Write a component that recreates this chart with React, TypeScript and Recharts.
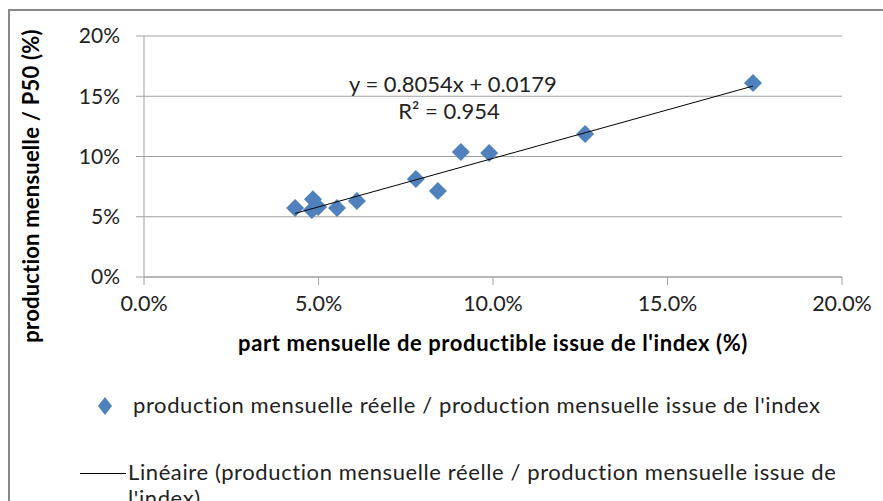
import React from 'react';
import { ScatterChart, Scatter, XAxis, YAxis, CartesianGrid } from 'recharts';

// Data (values in %)
const xValues = [4.33, 4.84, 4.81, 4.99, 5.53, 6.1, 7.79, 8.42, 9.08, 9.89, 12.64, 17.45];
const yValues = [5.73, 6.45, 5.56, 5.8, 5.73, 6.3, 8.13, 7.14, 10.37, 10.3, 11.87, 16.1];
const xTicks = [0, 5, 10, 15, 20];
const yTicks = [0, 5, 10, 15, 20];

// Trend line (from the equation printed on the chart)
const slope = 0.8054;
const intercept = 0.0179;
const rSquared = 0.954;

const seriesName = "production mensuelle réelle / production mensuelle issue de l'index";
const trendNameLine1 = 'Linéaire (production mensuelle réelle / production mensuelle issue de';
const trendNameLine2 = "l'index)";
const xTitle = "part mensuelle de productible issue de l'index (%)";
const yTitle = 'production mensuelle / P50 (%)';

const points = xValues.map((x, i) => ({ x, y: yValues[i] }));
const xMin = Math.min(...xValues);
const xMax = Math.max(...xValues);
const trend = [xMin, xMax].map((x) => ({ x, y: slope * x + intercept * 100 }));

const FONT = "Lato, 'Open Sans', sans-serif";
const BLUE = '#4F81BD';
const GRAY = '#a0a0a0';

const Diamond = (props: any) => {
  const { cx, cy } = props;
  const r = 9;
  return (
    <polygon
      points={`${cx},${cy - r} ${cx + r},${cy} ${cx},${cy + r} ${cx - r},${cy}`}
      fill={BLUE}
    />
  );
};

const NoDot = () => <g />;

export default function App() {
  return (
    <div
      style={{
        position: 'absolute',
        left: 0,
        top: 0,
        width: 883,
        height: 501,
        overflow: 'hidden',
        background: '#fff',
        fontFamily: FONT,
      }}
    >
      <div
        style={{
          position: 'absolute',
          left: 8,
          top: 9,
          width: 1000,
          height: 1000,
          borderLeft: '2px solid #888',
          borderTop: '2px solid #888',
        }}
      />
      <div style={{ position: 'absolute', left: 0, top: 0 }}>
        <ScatterChart width={883} height={501} margin={{ top: 36, right: 41, bottom: 0, left: 0 }}>
          <CartesianGrid vertical={false} stroke={GRAY} />
          <XAxis
            type="number"
            dataKey="x"
            domain={[0, 20]}
            ticks={xTicks}
            height={224}
            tickFormatter={(v: number) => v.toFixed(1) + '%'}
            tick={{ fill: '#222', fontSize: 21.5, fontFamily: FONT }}
            tickSize={8}
            tickMargin={11}
            axisLine={{ stroke: GRAY }}
            tickLine={{ stroke: GRAY }}
            label={(p: any) => {
              const vb = p.viewBox || {};
              return (
                <text
                  x={vb.x + vb.width / 2}
                  y={vb.y + 74}
                  textAnchor="middle"
                  fontFamily={FONT}
                  fontWeight="bold"
                  fontSize={22}
                  letterSpacing={0.6}
                  fill="#000"
                >
                  {xTitle}
                </text>
              );
            }}
          />
          <YAxis
            type="number"
            dataKey="y"
            domain={[0, 20]}
            ticks={yTicks}
            width={144}
            tickFormatter={(v: number) => v + '%'}
            tick={{ fill: '#222', fontSize: 21, fontFamily: FONT }}
            tickSize={8}
            tickMargin={16}
            axisLine={{ stroke: GRAY }}
            tickLine={{ stroke: GRAY }}
            label={() => (
              <text
                x={30}
                y={186}
                transform="rotate(-90, 30, 186)"
                textAnchor="middle"
                dominantBaseline="central"
                fontFamily={FONT}
                fontWeight="bold"
                fontSize={22}
                letterSpacing={0.2}
                fill="#000"
              >
                {yTitle}
              </text>
            )}
          />
          <Scatter
            name={seriesName}
            data={points}
            shape={Diamond}
            fill={BLUE}
            isAnimationActive={false}
          />
          <Scatter
            name="trend"
            data={trend}
            line={{ stroke: '#000', strokeWidth: 1 }}
            shape={NoDot}
            fill="#000"
            isAnimationActive={false}
          />
        </ScatterChart>
      </div>

      {/* Trend line equation */}
      <div
        style={{
          position: 'absolute',
          left: 349,
          width: 200,
          top: 70,
          textAlign: 'center',
          fontSize: 22,
          lineHeight: '27px',
          color: '#222',
          whiteSpace: 'nowrap',
        }}
      >
        <div>y = {slope}x + {intercept}</div>
        <div>R² = {rSquared}</div>
      </div>

      {/* Legend */}
      <svg style={{ position: 'absolute', left: 96, top: 396 }} width={18} height={20}>
        <polygon points="9,1 16,10 9,19 2,10" fill={BLUE} />
      </svg>
      <div
        style={{
          position: 'absolute',
          left: 133,
          top: 391,
          fontSize: 22,
          letterSpacing: 0.6,
          lineHeight: '28px',
          color: '#222',
          whiteSpace: 'nowrap',
        }}
      >
        {seriesName}
      </div>
      <div
        style={{
          position: 'absolute',
          left: 80,
          top: 473,
          width: 46,
          height: 1,
          background: '#000',
        }}
      />
      <div
        style={{
          position: 'absolute',
          left: 128,
          top: 459,
          fontSize: 22,
          letterSpacing: 0.6,
          lineHeight: '26px',
          color: '#222',
          whiteSpace: 'nowrap',
        }}
      >
        <div>{trendNameLine1}</div>
        <div>{trendNameLine2}</div>
      </div>
    </div>
  );
}
